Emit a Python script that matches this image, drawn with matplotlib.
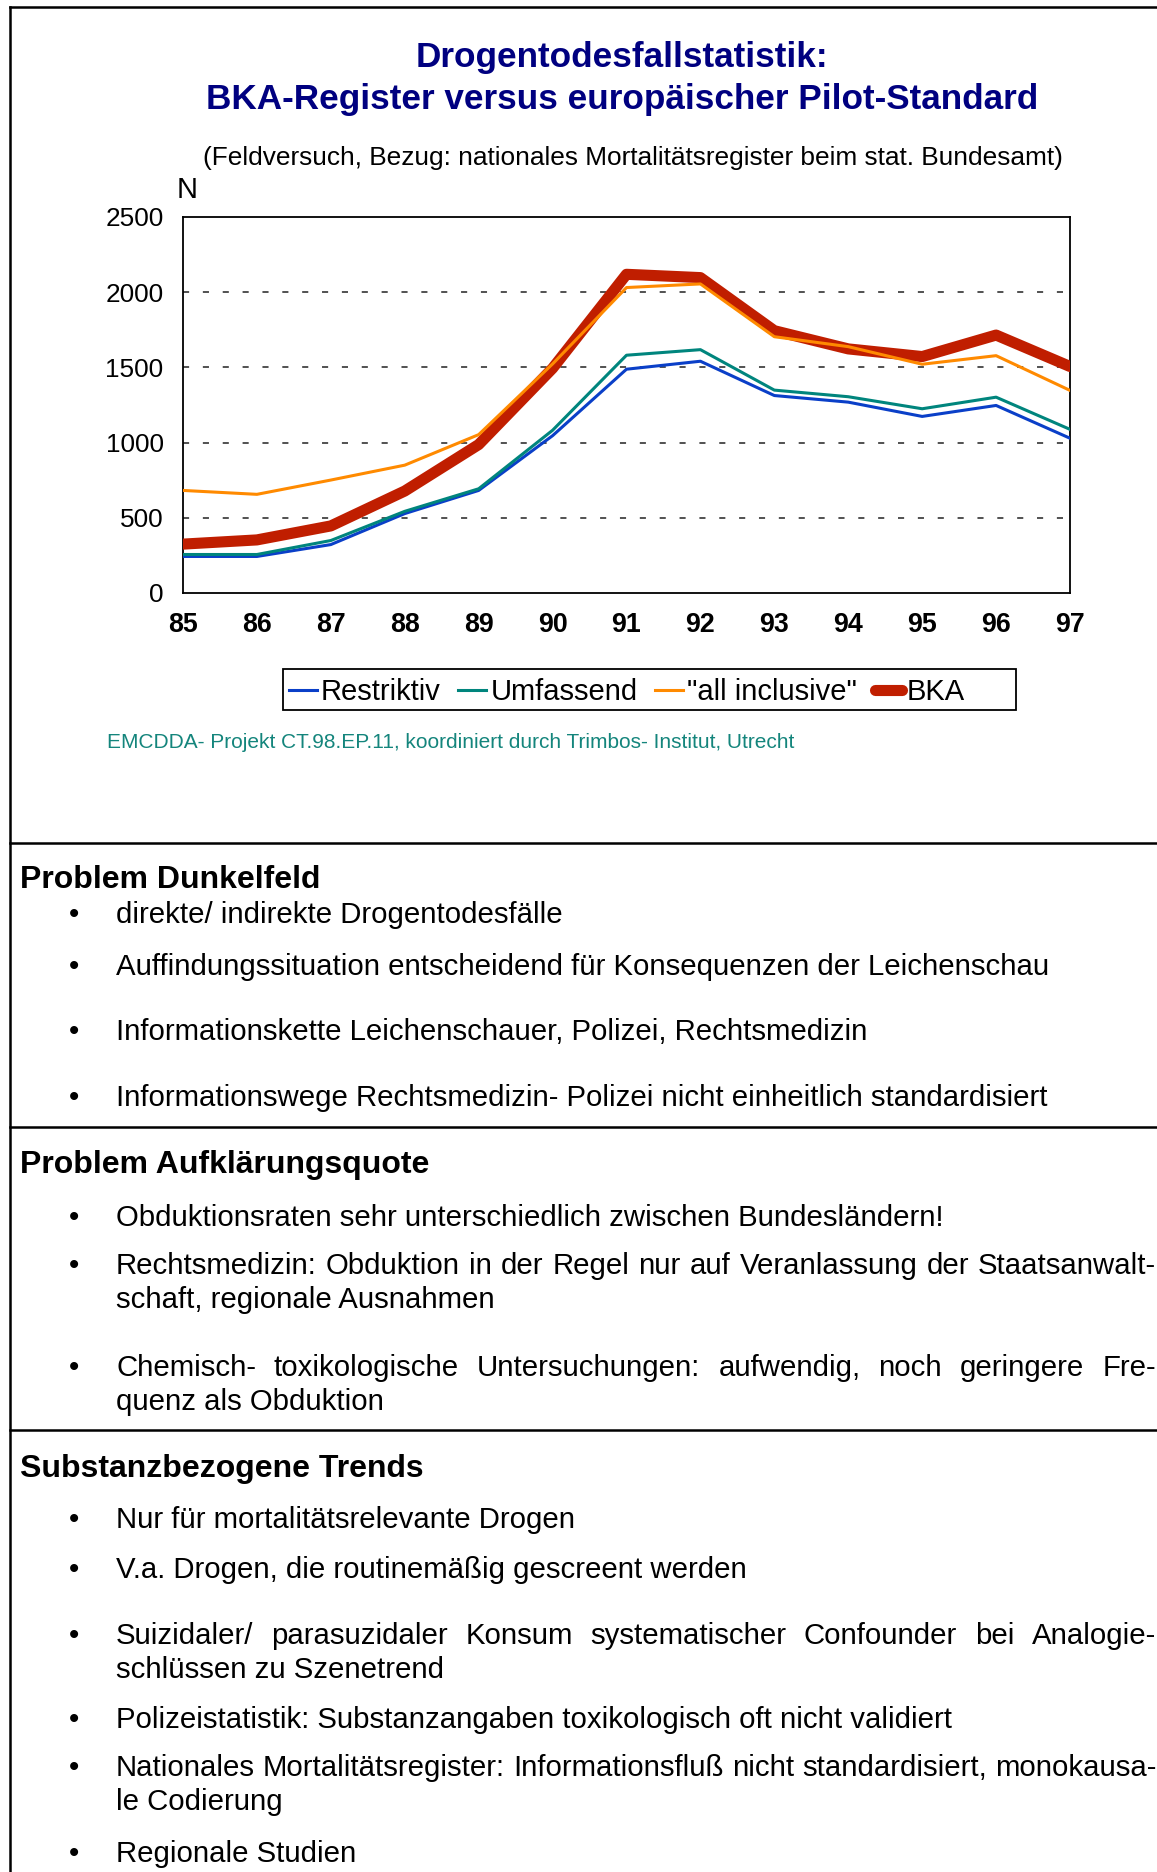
"""
Drogentodesfallstatistik: BKA-Register vs. europäischer Pilot-Standard,
plus the three bullet-point text panels below the chart.
"""

import matplotlib
matplotlib.use("Agg")
import matplotlib.pyplot as plt
from matplotlib.lines import Line2D
from matplotlib.patches import Rectangle

plt.rcParams["font.family"] = ["Liberation Sans", "DejaVu Sans"]

W, H = 1157, 1872

years         = [85, 86, 87, 88, 89, 90, 91, 92, 93, 94, 95, 96, 97]
restriktiv    = [243, 243, 322, 528, 682, 1046, 1488, 1541, 1313, 1269, 1174, 1247, 1029]
umfassend     = [256, 256, 349, 543, 693, 1082, 1581, 1618, 1349, 1305, 1225, 1302, 1088]
all_inclusive = [682, 656, 751, 850, 1053, 1523, 2031, 2055, 1704, 1638, 1521, 1578, 1347]
bka           = [325, 353, 446, 678, 987, 1494, 2119, 2097, 1744, 1623, 1572, 1715, 1506]

series_labels = ["Restriktiv", "Umfassend", '"all inclusive"', "BKA"]
yticks = [0, 500, 1000, 1500, 2000, 2500]

title_lines = ["Drogentodesfallstatistik:", "BKA-Register versus europäischer Pilot-Standard"]
subtitle = "(Feldversuch, Bezug: nationales Mortalitätsregister beim stat. Bundesamt)"
footer = "EMCDDA- Projekt CT.98.EP.11, koordiniert durch Trimbos- Institut, Utrecht"

# (header, y px, [(bullet lines, y of first line in px)...])
sections = [
    ("Problem Dunkelfeld", 878, [
        (["direkte/ indirekte Drogentodesfälle"], 913),
        (["Auffindungssituation entscheidend für Konsequenzen der Leichenschau"], 964),
        (["Informationskette Leichenschauer, Polizei, Rechtsmedizin"], 1029),
        (["Informationswege Rechtsmedizin- Polizei nicht einheitlich standardisiert"], 1095),
    ]),
    ("Problem Aufklärungsquote", 1163, [
        (["Obduktionsraten sehr unterschiedlich zwischen Bundesländern!"], 1215),
        (["Rechtsmedizin: Obduktion in der Regel nur auf Veranlassung der Staatsanwalt-",
          "schaft, regionale Ausnahmen"], 1264),
        (["Chemisch- toxikologische Untersuchungen: aufwendig, noch geringere Fre-",
          "quenz als Obduktion"], 1365),
    ]),
    ("Substanzbezogene Trends", 1466, [
        (["Nur für mortalitätsrelevante Drogen"], 1518),
        (["V.a. Drogen, die routinemäßig gescreent werden"], 1568),
        (["Suizidaler/ parasuzidaler Konsum systematischer Confounder bei Analogie-",
          "schlüssen zu Szenetrend"], 1633),
        (["Polizeistatistik: Substanzangaben toxikologisch oft nicht validiert"], 1717),
        (["Nationales Mortalitätsregister: Informationsfluß nicht standardisiert, monokausa-",
          "le Codierung"], 1766),
        (["Regionale Studien"], 1851),
    ]),
]

BLUE, TEAL, ORANGE, RED = "#0a3fc8", "#00857d", "#ff8a00", "#c01e00"
NAVY = "#000080"
DY = 2.5  # text centre nudge (px)


def fx(x):
    return x / W


def fy(y):
    return 1 - y / H


def ty(y):
    return fy(y + DY)


fig = plt.figure(figsize=(W / 100, H / 100), dpi=100)
renderer = fig.canvas.get_renderer()

# --- chart ---
ax = fig.add_axes([fx(183), fy(593), fx(1070) - fx(183), fy(217) - fy(593)])
ax.plot(years, bka, color=RED, lw=8, solid_capstyle="round", solid_joinstyle="round", zorder=3)
ax.plot(years, restriktiv, color=BLUE, lw=2.2, zorder=4)
ax.plot(years, umfassend, color=TEAL, lw=2.2, zorder=4)
ax.plot(years, all_inclusive, color=ORANGE, lw=2.2, zorder=5)
ax.set_xlim(85, 97)
ax.set_ylim(0, 2500)
ax.set_xticks(years)
ax.set_xticklabels([str(y) for y in years], fontsize=19.3, fontweight="bold")
ax.set_yticks(yticks)
ax.set_yticklabels([str(v) for v in yticks], fontsize=18.8)
ax.tick_params(axis="x", length=0, pad=14)
ax.tick_params(axis="y", length=0, pad=14)
for v in yticks[1:-1]:
    ax.axhline(v, color="#222222", lw=1.1, ls=(0, (4, 9)), zorder=1)
for s in ax.spines.values():
    s.set_linewidth(1.3)

handles = [
    Line2D([], [], color=BLUE, lw=2.2),
    Line2D([], [], color=TEAL, lw=2.2),
    Line2D([], [], color=ORANGE, lw=2.2),
    Line2D([], [], color=RED, lw=8, solid_capstyle="round"),
]
fig.legend(handles, series_labels, loc="center left", ncol=4,
           bbox_to_anchor=(fx(289), ty(690)), fontsize=21, frameon=False,
           handlelength=0.95, handletextpad=0.15, columnspacing=0.6,
           borderpad=0.0, borderaxespad=0)
fig.add_artist(Rectangle((fx(283), fy(710)), fx(1016) - fx(283), fy(669) - fy(710),
                         transform=fig.transFigure, fill=False, edgecolor="black", lw=1.3))

fig.text(fx(187), ty(187), "N", fontsize=21, ha="center", va="center")
fig.text(fx(622), ty(55), title_lines[0], fontsize=25.3, fontweight="bold", color=NAVY,
         ha="center", va="center")
fig.text(fx(622), ty(97), title_lines[1], fontsize=25.3, fontweight="bold", color=NAVY,
         ha="center", va="center")
fig.text(fx(633), ty(156), subtitle, fontsize=18.9, ha="center", va="center")
fig.text(fx(107), ty(740), footer, fontsize=15.0, color="#14857c", ha="left", va="center")

# --- frame and separators ---
frame_kw = dict(color="black", lw=1.8, transform=fig.transFigure)
fig.add_artist(Line2D([fx(10), fx(10)], [fy(7), 0], **frame_kw))
fig.add_artist(Line2D([fx(10), 1], [fy(7), fy(7)], **frame_kw))
for yy in (843, 1127, 1430):
    fig.add_artist(Line2D([fx(10), 1], [fy(yy), fy(yy)], **frame_kw))

# --- text panels ---
BODY = 21.2
X_BULLET, X_TEXT, X_RIGHT = 74, 116, 1156
LINE_GAP = 34


def justified(line, y):
    words = line.split(" ")
    parts = [fig.text(0, ty(y), w, fontsize=BODY, ha="left", va="center") for w in words]
    widths = [p.get_window_extent(renderer).width for p in parts]
    gap = (X_RIGHT - X_TEXT - sum(widths)) / (len(words) - 1)
    x = X_TEXT
    for p, w in zip(parts, widths):
        p.set_x(fx(x))
        x += w + gap


for header, hy, bullets in sections:
    fig.text(fx(20), ty(hy), header, fontsize=23, fontweight="bold", ha="left", va="center")
    for lines, by in bullets:
        fig.text(fx(X_BULLET), ty(by), "•", fontsize=BODY, ha="center", va="center")
        for i, line in enumerate(lines):
            yy = by + i * LINE_GAP
            if len(lines) > 1 and i == 0:
                justified(line, yy)
            else:
                fig.text(fx(X_TEXT), ty(yy), line, fontsize=BODY, ha="left", va="center")

fig.savefig("out.png", dpi=100)
